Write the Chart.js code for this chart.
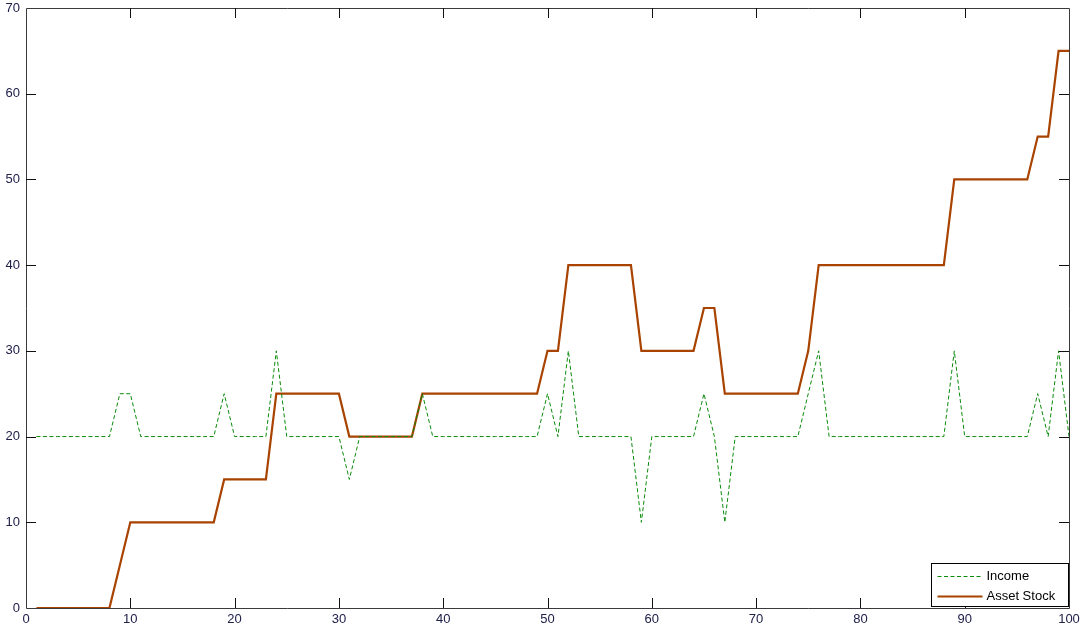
<!DOCTYPE html>
<html>
<head>
<meta charset="utf-8">
<script src="https://cdn.jsdelivr.net/npm/chart.js@4/dist/chart.umd.min.js"></script>
<style>
  html, body { margin: 0; padding: 0; background: #ffffff; }
  #wrap { width: 1082px; height: 630px; position: relative; }
</style>
</head>
<body>
<div id="wrap"><canvas id="c" width="1082" height="630"></canvas></div>
<script>
// ---- data ----
const periods = [];
for (let i = 1; i <= 100; i++) periods.push(i);

const income = [
  20,20,20,20,20,20,20,20,25,25,      // 1-10
  20,20,20,20,20,20,20,20,25,20,      // 11-20
  20,20,20,30,20,20,20,20,20,20,      // 21-30
  15,20,20,20,20,20,20,25,20,20,      // 31-40
  20,20,20,20,20,20,20,20,20,25,      // 41-50
  20,30,20,20,20,20,20,20,10,20,      // 51-60
  20,20,20,20,25,20,10,20,20,20,      // 61-70
  20,20,20,20,25,30,20,20,20,20,      // 71-80
  20,20,20,20,20,20,20,20,30,20,      // 81-90
  20,20,20,20,20,20,25,20,30,20       // 91-100
];

const assetStock = [
  0,0,0,0,0,0,0,0,5,10,               // 1-10
  10,10,10,10,10,10,10,10,15,15,      // 11-20
  15,15,15,25,25,25,25,25,25,25,      // 21-30
  20,20,20,20,20,20,20,25,25,25,      // 31-40
  25,25,25,25,25,25,25,25,25,30,      // 41-50
  30,40,40,40,40,40,40,40,30,30,      // 51-60
  30,30,30,30,35,35,25,25,25,25,      // 61-70
  25,25,25,25,30,40,40,40,40,40,      // 71-80
  40,40,40,40,40,40,40,40,50,50,      // 81-90
  50,50,50,50,50,50,55,55,65,65       // 91-100
];

const xTicks = [0,10,20,30,40,50,60,70,80,90,100];
const yTicks = [0,10,20,30,40,50,60,70];

const seriesNames = ['Income', 'Asset Stock'];

// ---- chart ----
const FONT = "'Liberation Sans', Arial, sans-serif";
const TEXT = '#20204a';
const AXIS = '#3a3a3a';

function pts(vals) { return periods.map((p, i) => ({ x: p, y: vals[i] })); }

const boxPlugin = {
  id: 'matlabBox',
  afterDatasetsDraw(chart) {
    const { ctx, chartArea: a, scales: { x, y } } = chart;
    ctx.save();
    ctx.strokeStyle = AXIS;
    ctx.lineWidth = 1;
    ctx.beginPath();
    ctx.rect(Math.round(a.left) + 0.5, Math.round(a.top) + 0.5,
             Math.round(a.right - a.left), Math.round(a.bottom - a.top));
    ctx.stroke();
    const L = 10;
    ctx.strokeStyle = '#111';
    ctx.beginPath();
    xTicks.forEach(v => {
      const px = Math.round(x.getPixelForValue(v)) + 0.5;
      if (v === 0 || v === 100) return;
      ctx.moveTo(px, a.bottom); ctx.lineTo(px, a.bottom - L);
      ctx.moveTo(px, a.top); ctx.lineTo(px, a.top + L);
    });
    yTicks.forEach(v => {
      const py = Math.round(y.getPixelForValue(v)) + 0.5;
      if (v === 0 || v === 70) return;
      ctx.moveTo(a.left, py); ctx.lineTo(a.left + L, py);
      ctx.moveTo(a.right, py); ctx.lineTo(a.right - L, py);
    });
    ctx.stroke();

    // legend box (bottom-right, inside plot)
    const w = 137, h = 43;
    const lx = Math.round(a.right - w) + 0.5 - 1;
    const ly = Math.round(a.bottom - h) + 0.5 - 2;
    ctx.fillStyle = '#ffffff';
    ctx.fillRect(lx, ly, w, h);
    ctx.strokeStyle = '#000';
    ctx.lineWidth = 1;
    ctx.strokeRect(lx, ly, w, h);
    ctx.font = '13px ' + FONT;
    ctx.textBaseline = 'middle';
    chart.data.datasets.forEach((ds, i) => {
      const cy = ly + 13 + i * 20;
      ctx.save();
      ctx.strokeStyle = ds.borderColor;
      ctx.lineWidth = ds.borderWidth;
      ctx.setLineDash(ds.borderDash || []);
      ctx.beginPath();
      ctx.moveTo(lx + 6, cy); ctx.lineTo(lx + 51, cy);
      ctx.stroke();
      ctx.restore();
      ctx.fillStyle = '#000';
      ctx.fillText(ds.label, lx + 55, cy);
    });
    ctx.restore();
  }
};

new Chart(document.getElementById('c'), {
  type: 'line',
  data: {
    datasets: [
      {
        label: seriesNames[0],
        data: pts(income),
        borderColor: '#0a8a0a',
        borderWidth: 1,
        borderDash: [4, 2.5],
        pointRadius: 0,
        tension: 0,
        fill: false
      },
      {
        label: seriesNames[1],
        data: pts(assetStock),
        borderColor: '#a84300',
        borderWidth: 2.2,
        pointRadius: 0,
        tension: 0,
        fill: false
      }
    ]
  },
  options: {
    responsive: false,
    animation: false,
    layout: { padding: { top: 8, right: 13, left: 0, bottom: 0 } },
    plugins: { legend: { display: false }, tooltip: { enabled: false } },
    scales: {
      x: {
        type: 'linear', min: 0, max: 100,
        afterBuildTicks(s) { s.ticks = xTicks.map(v => ({ value: v })); },
        afterFit(s) { s.height = 22; s.paddingLeft = 0; s.paddingRight = 0; },
        grid: { display: false, drawTicks: false },
        border: { display: false },
        ticks: { color: TEXT, font: { family: FONT, size: 13 }, padding: 4, maxRotation: 0, autoSkip: false }
      },
      y: {
        type: 'linear', min: 0, max: 70,
        afterBuildTicks(s) { s.ticks = yTicks.map(v => ({ value: v })); },
        afterFit(s) { s.width = 26; s.paddingTop = 0; s.paddingBottom = 0; },
        grid: { display: false, drawTicks: false },
        border: { display: false },
        ticks: { color: TEXT, font: { family: FONT, size: 13 }, padding: 6 }
      }
    }
  },
  plugins: [boxPlugin]
});
</script>
</body>
</html>
